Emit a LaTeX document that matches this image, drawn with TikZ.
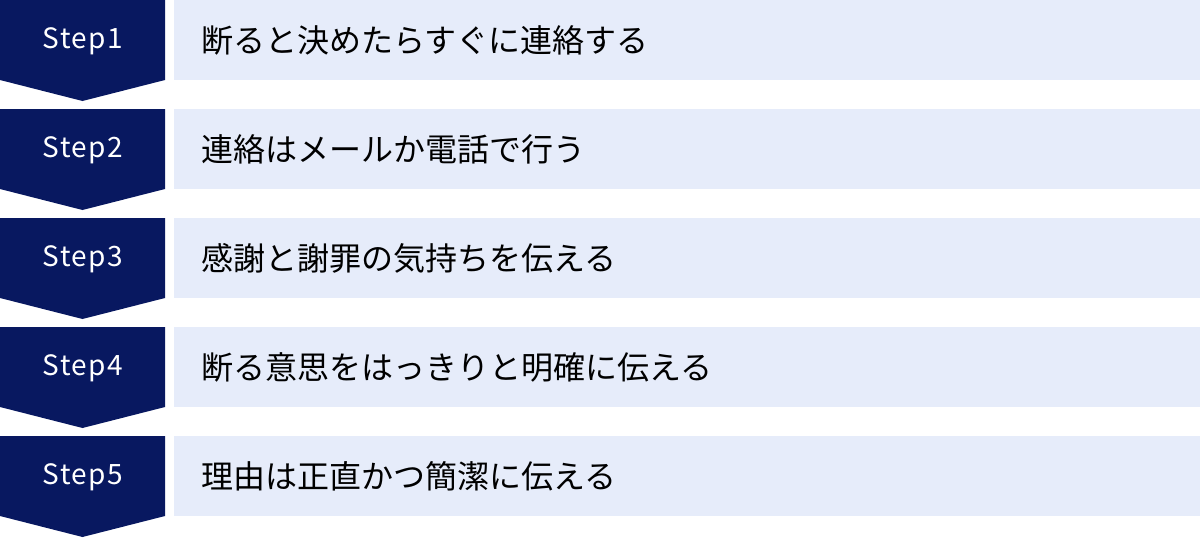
\documentclass[tikz,border=0pt]{standalone}
\usepackage{fontspec}
\setmainfont{Noto Sans CJK JP}
\definecolor{navy}{RGB}{8,24,96}
\definecolor{pale}{RGB}{230,236,250}
\tikzset{
  stepshape/.style={fill=navy},
  textbox/.style={fill=pale},
  steplabel/.style={text=white, font=\fontsize{28}{34}\selectfont\addfontfeatures{LetterSpace=5}, anchor=center, inner sep=0pt},
  desc/.style={text=black, font=\fontsize{32}{38}\selectfont, anchor=west, inner sep=0pt}
}
\begin{document}
\begin{tikzpicture}[x=1pt,y=-1pt]
\useasboundingbox (0,0) rectangle (1200,538);
\foreach \i/\txt in {1/断ると決めたらすぐに連絡する, 2/連絡はメールか電話で行う, 3/感謝と謝罪の気持ちを伝える, 4/断る意思をはっきりと明確に伝える, 5/理由は正直かつ簡潔に伝える}{
  \pgfmathsetmacro{\t}{109*(\i-1)}
  \fill[stepshape] (0,\t) -- (165,\t) -- (165,\t+80) -- (82.5,\t+101) -- (0,\t+80) -- cycle;
  \fill[textbox] (174,\t) rectangle (1200,\t+79.5);
  \node[steplabel] (s\i) at (83,\t+41) {Step\i};
  \node[desc] (d\i) at (201,\t+40) {\txt};
}
\end{tikzpicture}
\end{document}
